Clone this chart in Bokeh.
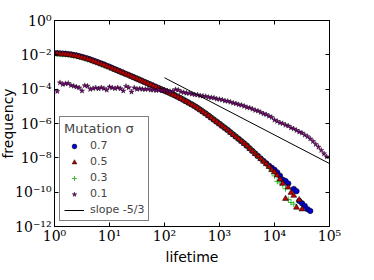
import numpy as np
from bokeh.plotting import figure
from bokeh.models import (ColumnDataSource, FixedTicker, CustomJSTickFormatter, LogAxis,
                          Legend, LegendItem, Title)
from bokeh.embed import file_html
from bokeh.resources import INLINE

# ---- data (log10 of lifetime and of frequency) ----
lifetime_exp_main = [0.00, 0.05, 0.10, 0.15, 0.20, 0.25, 0.30, 0.35, 0.40, 0.45,
                     0.50, 0.55, 0.60, 0.65, 0.70, 0.75, 0.80, 0.85, 0.90, 0.95,
                     1.00, 1.05, 1.10, 1.15, 1.20, 1.25, 1.30, 1.35, 1.40, 1.45,
                     1.50, 1.55, 1.60, 1.65, 1.70, 1.75, 1.80, 1.85, 1.90, 1.95,
                     2.00, 2.05, 2.10, 2.15, 2.20, 2.25, 2.30, 2.35, 2.40, 2.45,
                     2.50, 2.55, 2.60, 2.65, 2.70, 2.75, 2.80, 2.85, 2.90, 2.95,
                     3.00, 3.05, 3.10, 3.15, 3.20, 3.25, 3.30, 3.35, 3.40, 3.45,
                     3.50, 3.55, 3.60, 3.65, 3.70, 3.75, 3.80, 3.85]

freq_exp_s07 = [-1.91, -1.91, -1.92, -1.93, -1.94, -1.96, -1.98, -2.01, -2.04, -2.08,
                -2.12, -2.17, -2.22, -2.27, -2.33, -2.39, -2.45, -2.51, -2.57, -2.64,
                -2.70, -2.77, -2.84, -2.91, -2.98, -3.05, -3.12, -3.18, -3.25, -3.32,
                -3.39, -3.46, -3.53, -3.60, -3.67, -3.74, -3.81, -3.88, -3.95, -4.02,
                -4.09, -4.16, -4.23, -4.30, -4.38, -4.46, -4.54, -4.63, -4.72, -4.81,
                -4.90, -4.99, -5.09, -5.20, -5.31, -5.42, -5.54, -5.66, -5.78, -5.90,
                -6.02, -6.14, -6.26, -6.38, -6.51, -6.64, -6.77, -6.90, -7.03, -7.16,
                -7.30, -7.45, -7.60, -7.75, -7.90, -8.04, -8.18, -8.32]
tail_x_s07 = [3.90, 3.95, 4.00, 4.05, 4.10, 4.15, 4.20, 4.25, 4.35, 4.40, 4.45, 4.50, 4.55, 4.60, 4.65]
tail_y_s07 = [-8.46, -8.58, -8.70, -8.85, -9.05, -9.27, -9.35, -9.50, -9.81, -9.94, -10.51, -10.65, -10.80, -10.99, -11.09]

freq_exp_s05 = [-1.94, -1.94, -1.95, -1.96, -1.97, -1.99, -2.01, -2.04, -2.07, -2.11,
                -2.15, -2.20, -2.25, -2.30, -2.36, -2.42, -2.48, -2.54, -2.60, -2.66,
                -2.72, -2.79, -2.86, -2.92, -2.99, -3.06, -3.13, -3.19, -3.26, -3.33,
                -3.40, -3.47, -3.54, -3.61, -3.68, -3.75, -3.82, -3.89, -3.96, -4.03,
                -4.10, -4.17, -4.24, -4.31, -4.39, -4.47, -4.55, -4.64, -4.73, -4.82,
                -4.91, -5.00, -5.10, -5.21, -5.32, -5.43, -5.55, -5.67, -5.79, -5.91,
                -6.03, -6.15, -6.27, -6.39, -6.52, -6.65, -6.78, -6.91, -7.04, -7.17,
                -7.31, -7.46, -7.61, -7.76, -7.91, -8.06, -8.21, -8.36]
tail_x_s05 = [3.90, 3.95, 4.00, 4.05, 4.10, 4.15, 4.20, 4.25, 4.30, 4.35, 4.40, 4.45, 4.50]
tail_y_s05 = [-8.52, -8.70, -8.84, -9.02, -9.25, -9.50, -10.38, -9.72, -10.03, -10.20, -10.89, -10.45, -10.99]

freq_exp_s03 = [-1.95, -1.95, -1.96, -1.97, -1.98, -2.00, -2.02, -2.05, -2.08, -2.12,
                -2.16, -2.21, -2.26, -2.31, -2.37, -2.43, -2.49, -2.55, -2.61, -2.67,
                -2.73, -2.79, -2.86, -2.92, -2.98, -3.05, -3.12, -3.18, -3.24, -3.31,
                -3.37, -3.44, -3.51, -3.58, -3.65, -3.72, -3.79, -3.86, -3.93, -4.00,
                -4.06, -4.13, -4.20, -4.27, -4.35, -4.43, -4.51, -4.60, -4.69, -4.78,
                -4.87, -4.96, -5.06, -5.17, -5.28, -5.39, -5.51, -5.63, -5.75, -5.87,
                -5.99, -6.11, -6.23, -6.35, -6.48, -6.61, -6.74, -6.87, -7.00, -7.13,
                -7.27, -7.42, -7.57, -7.72, -7.87, -8.03, -8.19, -8.35]
tail_x_s03 = [3.90, 3.95, 4.00, 4.05, 4.10, 4.15, 4.20, 4.25, 4.30, 4.35]
tail_y_s03 = [-8.55, -8.78, -9.05, -9.37, -9.46, -9.56, -9.80, -10.42, -10.60, -10.70]

lifetime_exp_s01 = [0.05, 0.10, 0.15, 0.20, 0.25, 0.30, 0.35, 0.40, 0.45, 0.50,
                    0.55, 0.60, 0.65, 0.70, 0.75, 0.80, 0.85, 0.90, 0.95, 1.00,
                    1.05, 1.10, 1.15, 1.20, 1.25, 1.30, 1.35, 1.40, 1.45, 1.50,
                    1.55, 1.60, 1.65, 1.70, 1.75, 1.80, 1.85, 1.90, 1.95, 2.00,
                    2.05, 2.10, 2.15, 2.20, 2.25, 2.30, 2.35, 2.40, 2.45, 2.50,
                    2.55, 2.60, 2.65, 2.70, 2.75, 2.80, 2.85, 2.90, 2.95, 3.00,
                    3.05, 3.10, 3.15, 3.20, 3.25, 3.30, 3.35, 3.40, 3.45, 3.50,
                    3.55, 3.60, 3.65, 3.70, 3.75, 3.80, 3.85, 3.90, 3.95, 4.00,
                    4.05, 4.10, 4.15, 4.20, 4.25, 4.30, 4.35, 4.40, 4.45, 4.50,
                    4.55, 4.60, 4.65, 4.70, 4.75, 4.80, 4.85, 4.90, 4.95]
freq_exp_s01 = [-4.13, -3.62, -3.72, -3.68, -3.66, -3.78, -3.82, -3.87, -3.92, -4.10,
                -3.79, -3.82, -4.00, -3.96, -3.92, -3.97, -3.91, -3.96, -4.05, -3.87,
                -3.92, -3.96, -3.91, -3.97, -4.10, -3.83, -3.91, -4.16, -3.92, -4.00,
                -3.97, -4.00, -4.01, -3.99, -4.05, -4.04, -4.08, -4.04, -4.09, -4.07,
                -4.10, -4.13, -4.12, -4.02, -4.05, -4.15, -4.19, -4.23, -4.24, -4.28,
                -4.32, -4.33, -4.38, -4.40, -4.42, -4.47, -4.49, -4.51, -4.57, -4.59,
                -4.62, -4.68, -4.70, -4.75, -4.81, -4.84, -4.90, -4.93, -4.99, -5.06,
                -5.09, -5.16, -5.23, -5.27, -5.35, -5.43, -5.48, -5.57, -5.64, -5.80,
                -5.87, -5.96, -6.00, -6.09, -6.14, -6.25, -6.31, -6.40, -6.49, -6.55,
                -6.67, -6.76, -6.89, -7.04, -7.21, -7.37, -7.56, -7.76, -7.94]

slope_x = [1e2, 1e5]
slope_y = [4.64e-4, 4.64e-9]

x_ticks = [1e0, 1e1, 1e2, 1e3, 1e4, 1e5]
y_ticks = [1e-12, 1e-10, 1e-8, 1e-6, 1e-4, 1e-2, 1e0]


def src(xe, ye):
    return ColumnDataSource(dict(x=[10.0 ** v for v in xe], y=[10.0 ** v for v in ye]))


s07 = src(lifetime_exp_main + tail_x_s07, freq_exp_s07 + tail_y_s07)
s05 = src(lifetime_exp_main + tail_x_s05, freq_exp_s05 + tail_y_s05)
s03 = src(lifetime_exp_main + tail_x_s03, freq_exp_s03 + tail_y_s03)
s01 = src(lifetime_exp_s01, freq_exp_s01)

p = figure(width=358, height=264, x_axis_type="log", y_axis_type="log",
           x_range=(1, 1e5), y_range=(1e-12, 1), output_backend="svg",
           toolbar_location=None, min_border_left=48, min_border_right=29,
           min_border_top=20, min_border_bottom=34)
p.background_fill_color = "white"
p.border_fill_color = "white"
p.outline_line_color = "black"
p.outline_line_width = 1
p.grid.visible = False

sup_code = """
const sup = {"-": "\u207b", "0": "\u2070", "1": "\u00b9", "2": "\u00b2", "3": "\u00b3",
             "4": "\u2074", "5": "\u2075", "6": "\u2076", "7": "\u2077", "8": "\u2078", "9": "\u2079"};
const e = Math.round(Math.log10(tick));
let s = "";
for (const c of String(e)) { s += sup[c]; }
return "10" + s;
"""


def style_axis(ax, ticks, labels=True, tick_standoff=3):
    ax.ticker = FixedTicker(ticks=ticks, minor_ticks=[])
    ax.major_tick_in = 4
    ax.major_tick_out = 0
    ax.minor_tick_line_color = None
    ax.axis_line_color = "black"
    ax.major_tick_line_color = "black"
    if labels:
        ax.formatter = CustomJSTickFormatter(code=sup_code)
        ax.major_label_text_font = "DejaVu Serif"
        ax.major_label_text_font_size = "14px"
        ax.major_label_text_color = "black"
        ax.major_label_standoff = tick_standoff
    else:
        ax.formatter = CustomJSTickFormatter(code="return '';")
        ax.major_label_text_font_size = "1px"
        ax.major_label_standoff = 0


style_axis(p.xaxis[0], x_ticks, tick_standoff=1)
style_axis(p.yaxis[0], y_ticks, tick_standoff=3)

top_ax = LogAxis()
right_ax = LogAxis()
style_axis(top_ax, x_ticks, labels=False)
style_axis(right_ax, y_ticks, labels=False)
p.add_layout(top_ax, "above")
p.add_layout(right_ax, "right")

# axis titles, outside the tick labels
x_title = Title(text="lifetime", align="center", text_font="DejaVu Sans",
                text_font_size="14px", text_font_style="normal", text_color="black",
                standoff=0, offset=0)
y_title = Title(text="frequency", align="center", text_font="DejaVu Sans",
                text_font_size="14px", text_font_style="normal", text_color="black",
                standoff=-6, offset=0)
p.add_layout(x_title, "below")
p.add_layout(y_title, "left")

r07 = p.scatter("x", "y", source=s07, marker="circle", size=5.5,
                fill_color="#0000cc", line_color="black", line_width=0.5)
r03 = p.scatter("x", "y", source=s03, marker="cross", size=6,
                line_color="#33bb33", line_width=1)
r05 = p.scatter("x", "y", source=s05, marker="triangle", size=6,
                fill_color="#bb0000", line_color="black", line_width=0.5)
r01 = p.scatter("x", "y", source=s01, marker="star", size=5.5,
                fill_color="#800080", line_color="black", line_width=0.4)
rs = p.line(slope_x, slope_y, line_color="black", line_width=1)

legend = Legend(items=[LegendItem(label="0.7", renderers=[r07]),
                       LegendItem(label="0.5", renderers=[r05]),
                       LegendItem(label="0.3", renderers=[r03]),
                       LegendItem(label="0.1", renderers=[r01]),
                       LegendItem(label="slope -5/3", renderers=[rs])],
                title="Mutation \u03c3", location="bottom_left")
legend.border_line_color = "black"
legend.border_line_width = 1
legend.background_fill_color = "white"
legend.background_fill_alpha = 1
legend.label_text_font = "DejaVu Sans"
legend.label_text_font_size = "11px"
legend.title_text_font = "DejaVu Sans"
legend.title_text_font_size = "13px"
legend.title_text_font_style = "normal"
legend.padding = 4
legend.spacing = 3
legend.glyph_height = 12
legend.glyph_width = 20
legend.label_height = 12
legend.label_standoff = 6
legend.margin = 5
legend.title_standoff = 3
p.add_layout(legend)

open("out.html", "w").write(file_html(p, INLINE))
